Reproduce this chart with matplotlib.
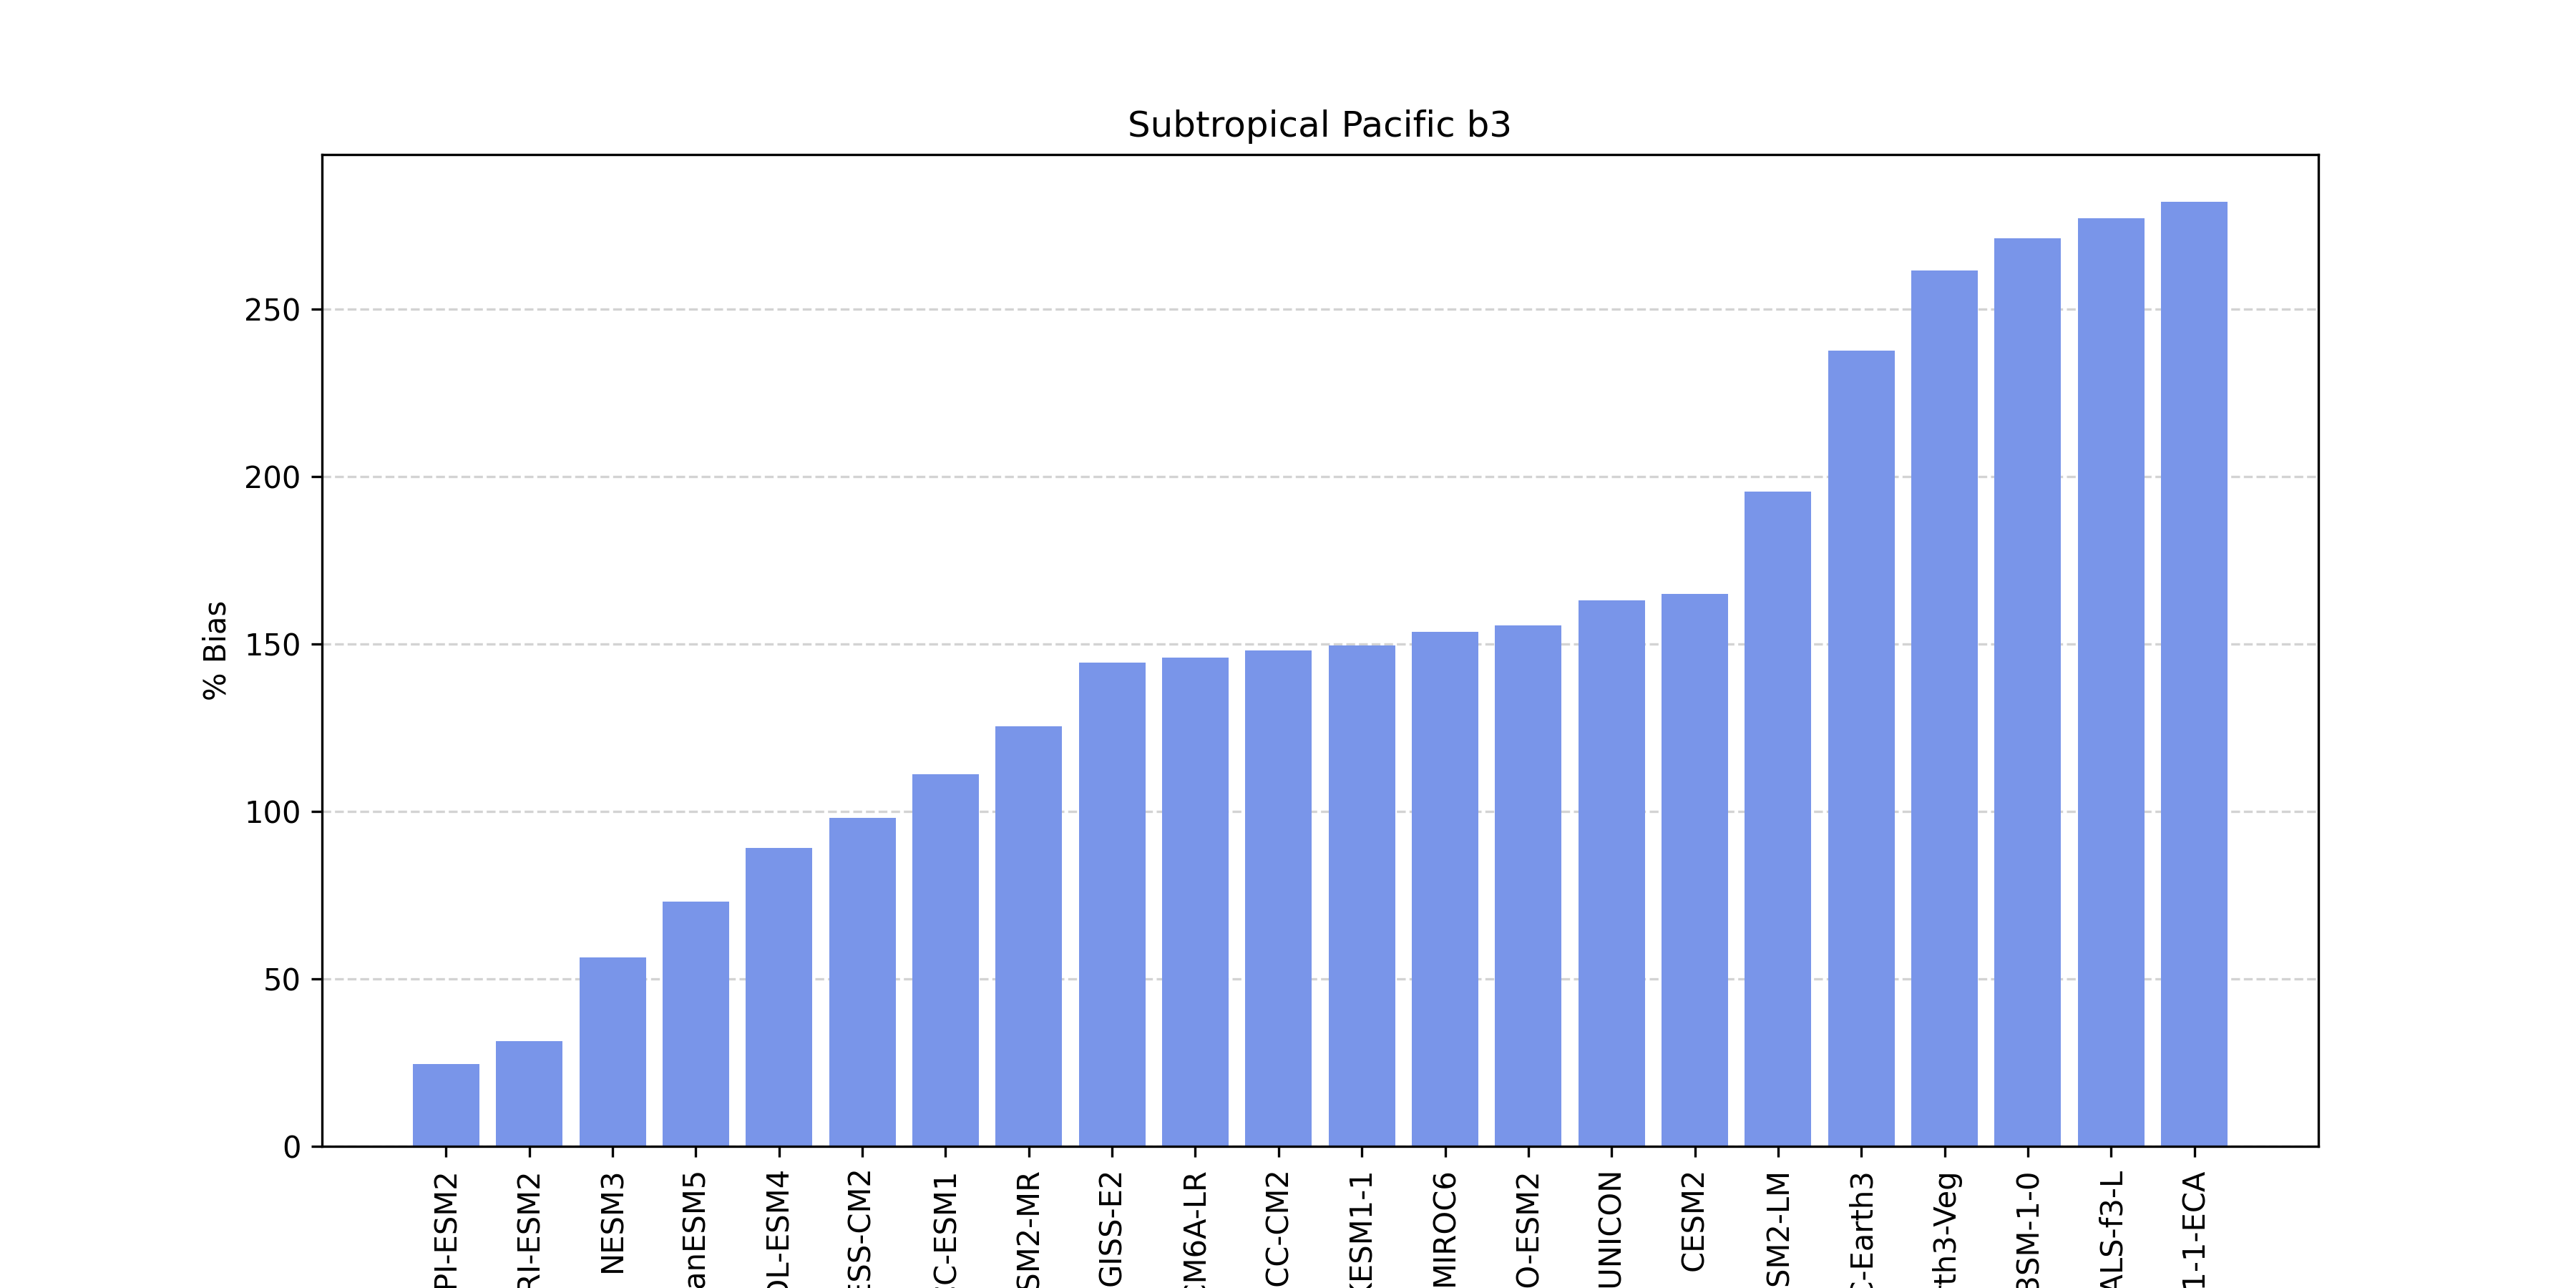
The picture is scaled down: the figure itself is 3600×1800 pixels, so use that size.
import matplotlib
matplotlib.use("Agg")
import matplotlib.pyplot as plt

models = ["MPI-ESM2", "MRI-ESM2", "NESM3", "CanESM5", "GFDL-ESM4", "ACCESS-CM2",
          "BCC-ESM1", "BCC-CSM2-MR", "GISS-E2", "IPSL-CM6A-LR", "CMCC-CM2", "UKESM1-1",
          "MIROC6", "FIO-ESM2", "SAM0-UNICON", "CESM2", "NorESM2-LM", "EC-Earth3",
          "EC-Earth3-Veg", "E3SM-1-0", "FGOALS-f3-L", "E3SM-1-1-ECA"]
bias = [24.5, 31.5, 56.5, 73, 89, 98, 111, 125.5, 144.5, 146, 148, 149.5,
        153.5, 155.5, 163, 165, 195.5, 237.5, 261.5, 271, 277, 282]

fig, ax = plt.subplots(figsize=(12, 6), dpi=300)
ax.bar(models, bias, color="#7995e9", zorder=2)
ax.set_title("Subtropical Pacific b3", fontsize=12)
ax.set_ylabel("% Bias")
ax.yaxis.grid(True, linestyle="--", color="lightgray", zorder=0)
ax.set_axisbelow(True)
plt.xticks(rotation=90)
fig.savefig("out.png")
